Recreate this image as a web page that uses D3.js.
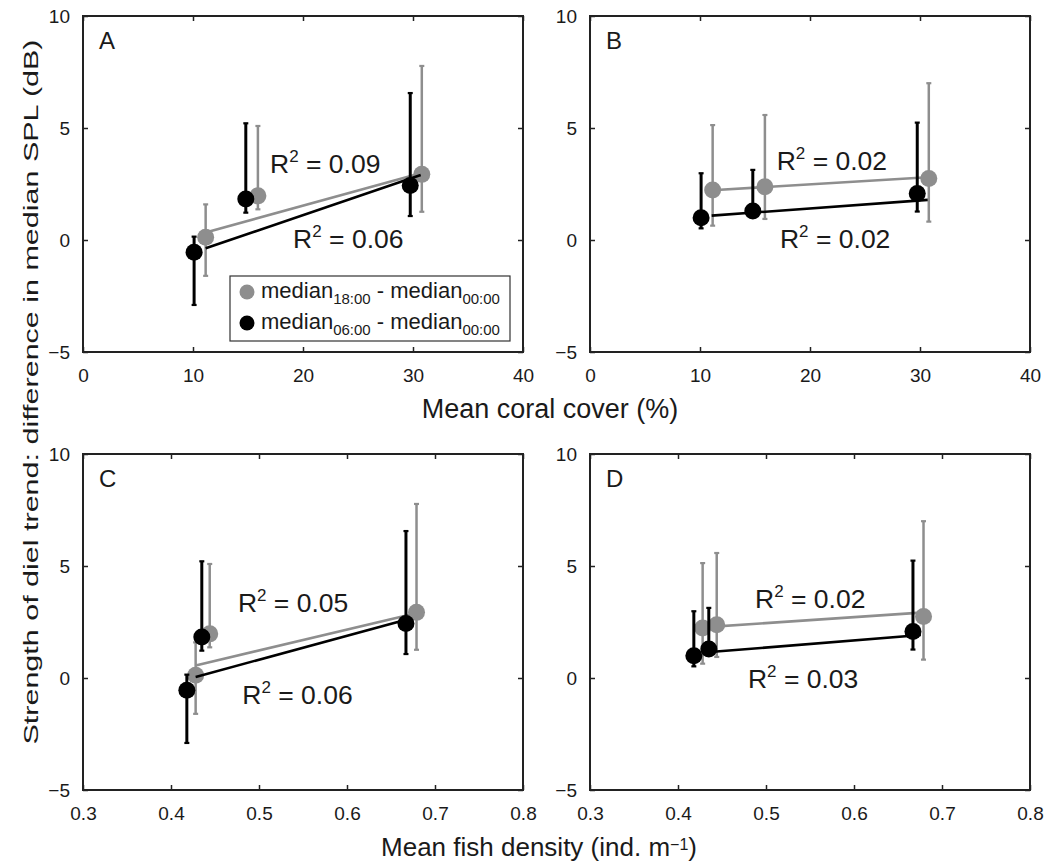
<!DOCTYPE html>
<html>
<head>
<meta charset="utf-8">
<script src="https://cdn.jsdelivr.net/npm/d3@7"></script>
<style>
  body { margin: 0; background: #fff; }
  text { font-family: 'Liberation Sans', Arial, Helvetica, sans-serif; fill: #1a1a1a; }
</style>
</head>
<body>
<div id="chart"></div>
<script>
'use strict'

////////////////////////////////////
//////////////// data //////////////
////////////////////////////////////

// x positions (slightly dodged per series)
const coralX18 = [11.15, 15.9, 30.8]
const coralX06 = [10.1, 14.8, 29.75]
const fishX18 = [0.428, 0.444, 0.679]
const fishX06 = [0.418, 0.435, 0.667]

// panel A / C : strength of diel trend (dB)
const acY18 = [0.12, 1.97, 2.93]
const acLo18 = [-1.6, 1.37, 1.26]
const acHi18 = [1.59, 5.09, 7.77]
const acY06 = [-0.55, 1.83, 2.43]
const acLo06 = [-2.9, 1.22, 1.07]
const acHi06 = [0.15, 5.21, 6.56]

// panel B / D
const bdY18 = [2.23, 2.38, 2.75]
const bdLo18 = [0.64, 0.94, 0.82]
const bdHi18 = [5.13, 5.58, 7.0]
const bdY06 = [0.99, 1.29, 2.08]
const bdLo06 = [0.52, 1.0, 1.27]
const bdHi06 = [2.98, 3.13, 5.24]

// regression lines [x0, y0, x1, y1]
const fitA18 = [11.15, 0.34, 30.7, 2.98]
const fitA06 = [11.15, -0.37, 30.7, 2.9]
const fitB18 = [11.1, 2.22, 30.7, 2.8]
const fitB06 = [11.06, 1.09, 30.7, 1.79]
const fitC18 = [0.428, 0.56, 0.676, 2.87]
const fitC06 = [0.428, 0.05, 0.667, 2.6]
const fitD18 = [0.428, 2.26, 0.676, 2.92]
const fitD06 = [0.44, 1.17, 0.676, 1.92]

const r2A = ['0.09', '0.06']
const r2B = ['0.02', '0.02']
const r2C = ['0.05', '0.06']
const r2D = ['0.02', '0.03']

const yTicks = [-5, 0, 5, 10]
const coralTicks = [0, 10, 20, 30, 40]
const fishTicks = [0.3, 0.4, 0.5, 0.6, 0.7, 0.8]

////////////////////////////////////
//////////// svg setup /////////////
////////////////////////////////////

const svgWidth = 1046, svgHeight = 863
const grey = '#8e8e8e', black = '#000'

const svg = d3.select('#chart').append('svg')
    .attr('width', svgWidth)
    .attr('height', svgHeight)
    .style('display', 'block')

svg.append('rect').attr('width', svgWidth).attr('height', svgHeight).attr('fill', '#fff')

const pw = 440, ph = 336

const panels = [
    {id: 'A', left: 83, top: 16, domain: [0, 40], ticks: coralTicks, fmt: d3.format('d'),
     x18: coralX18, x06: coralX06, y18: acY18, lo18: acLo18, hi18: acHi18, y06: acY06, lo06: acLo06, hi06: acHi06,
     fit18: fitA18, fit06: fitA06, r2: r2A, lab18: [17.0, 2.99], lab06: [19.1, -0.36], legend: true},
    {id: 'B', left: 590, top: 16, domain: [0, 40], ticks: coralTicks, fmt: d3.format('d'),
     x18: coralX18, x06: coralX06, y18: bdY18, lo18: bdLo18, hi18: bdHi18, y06: bdY06, lo06: bdLo06, hi06: bdHi06,
     fit18: fitB18, fit06: fitB06, r2: r2B, lab18: [16.97, 3.13], lab06: [17.27, -0.36]},
    {id: 'C', left: 83, top: 454, domain: [0.3, 0.8], ticks: fishTicks, fmt: d3.format('.1f'),
     x18: fishX18, x06: fishX06, y18: acY18, lo18: acLo18, hi18: acHi18, y06: acY06, lo06: acLo06, hi06: acHi06,
     fit18: fitC18, fit06: fitC06, r2: r2C, lab18: [0.476, 2.94], lab06: [0.481, -1.17]},
    {id: 'D', left: 590, top: 454, domain: [0.3, 0.8], ticks: fishTicks, fmt: d3.format('.1f'),
     x18: fishX18, x06: fishX06, y18: bdY18, lo18: bdLo18, hi18: bdHi18, y06: bdY06, lo06: bdLo06, hi06: bdHi06,
     fit18: fitD18, fit06: fitD06, r2: r2D, lab18: [0.4875, 3.12], lab06: [0.4795, -0.45]}
]

panels.forEach(p => {
    const g = svg.append('g').attr('transform', `translate(${p.left},${p.top})`)

    const x = d3.scaleLinear().domain(p.domain).range([0, pw])
    const y = d3.scaleLinear().domain([-5, 10]).range([ph, 0])

    // axes (ticks inside)
    const ax = [
        d3.axisBottom(x).tickValues(p.ticks).tickFormat(p.fmt).tickSizeInner(-5).tickSizeOuter(0).tickPadding(17),
        d3.axisTop(x).tickValues(p.ticks).tickFormat('').tickSizeInner(-5).tickSizeOuter(0),
        d3.axisLeft(y).tickValues(yTicks).tickSizeInner(-5).tickSizeOuter(0).tickPadding(13),
        d3.axisRight(y).tickValues(yTicks).tickFormat('').tickSizeInner(-5).tickSizeOuter(0)
    ]
    const pos = [`translate(0,${ph})`, 'translate(0,0)', 'translate(0,0)', `translate(${pw},0)`]
    ax.forEach((a, i) => {
        const gg = g.append('g').attr('transform', pos[i]).call(a)
        gg.select('.domain').remove()
        gg.selectAll('line').attr('stroke', '#222').attr('stroke-width', 1.5)
        gg.selectAll('text').attr('font-size', 19).attr('fill', '#1a1a1a')
            .attr('font-family', "'Liberation Sans', Arial, sans-serif")
    })

    g.append('rect').attr('width', pw).attr('height', ph)
        .attr('fill', 'none').attr('stroke', '#222').attr('stroke-width', 2)

    g.append('text').attr('x', 16).attr('y', 33).attr('font-size', 24).text(p.id)

    const series = [
        {xs: p.x18, ys: p.y18, lo: p.lo18, hi: p.hi18, fit: p.fit18, color: grey, w: 2.5},
        {xs: p.x06, ys: p.y06, lo: p.lo06, hi: p.hi06, fit: p.fit06, color: black, w: 3}
    ]

    series.forEach(s => {
        const pts = s.xs.map((v, i) => ({x: v, y: s.ys[i], lo: s.lo[i], hi: s.hi[i]}))

        // error bars
        g.selectAll(null).data(pts).join('line')
            .attr('x1', d => x(d.x)).attr('x2', d => x(d.x))
            .attr('y1', d => y(d.lo)).attr('y2', d => y(d.hi))
            .attr('stroke', s.color).attr('stroke-width', s.w)
        ;['lo', 'hi'].forEach(k => {
            g.selectAll(null).data(pts).join('line')
                .attr('x1', d => x(d.x) - 2.5).attr('x2', d => x(d.x) + 2.5)
                .attr('y1', d => y(d[k])).attr('y2', d => y(d[k]))
                .attr('stroke', s.color).attr('stroke-width', 2.2)
        })

        // regression line
        g.append('line')
            .attr('x1', x(s.fit[0])).attr('y1', y(s.fit[1]))
            .attr('x2', x(s.fit[2])).attr('y2', y(s.fit[3]))
            .attr('stroke', s.color).attr('stroke-width', 2.6)

        g.selectAll(null).data(pts).join('circle')
            .attr('cx', d => x(d.x)).attr('cy', d => y(d.y)).attr('r', 8.5)
            .attr('fill', s.color)
    })

    // R^2 labels
    ;[[p.lab18, p.r2[0]], [p.lab06, p.r2[1]]].forEach(([pos, val]) => {
        const t = g.append('text').attr('x', x(pos[0])).attr('y', y(pos[1])).attr('font-size', 26.5)
        t.append('tspan').text('R')
        t.append('tspan').attr('font-size', 17).attr('dy', -11).text('2')
        t.append('tspan').attr('dy', 11).text(' = ' + val)
    })

    if (p.legend) {
        const lg = g.append('g').attr('transform', 'translate(147,260)')
        lg.append('rect').attr('width', 280).attr('height', 65)
            .attr('fill', '#fff').attr('stroke', '#333').attr('stroke-width', 1.2)
        const items = [['18:00', grey], ['06:00', black]]
        items.forEach((it, i) => {
            const yy = 16 + i * 31
            lg.append('circle').attr('cx', 17).attr('cy', yy).attr('r', 7.5).attr('fill', it[1])
            const t = lg.append('text').attr('x', 31).attr('y', yy + 6).attr('font-size', 22)
            t.append('tspan').text('median')
            t.append('tspan').attr('font-size', 15).attr('dy', 6).text(it[0])
            t.append('tspan').attr('dy', -6).text(' - median')
            t.append('tspan').attr('font-size', 15).attr('dy', 6).text('00:00')
        })
    }
})

// axis titles
svg.append('text').attr('x', 550).attr('y', 418).attr('text-anchor', 'middle')
    .attr('font-size', 27).text('Mean coral cover (%)')

const fl = svg.append('text').attr('x', 539).attr('y', 856).attr('text-anchor', 'middle').attr('font-size', 26)
fl.append('tspan').text('Mean fish density (ind. m')
fl.append('tspan').attr('font-size', 16).attr('dy', -6).text('−1')
fl.append('tspan').attr('dy', 6).text(')')

svg.append('text')
    .attr('transform', 'translate(38,392) rotate(-90)')
    .attr('text-anchor', 'middle').attr('font-size', 21)
    .attr('textLength', 705).attr('lengthAdjust', 'spacingAndGlyphs')
    .text('Strength of diel trend: difference in median SPL (dB)')
</script>
</body>
</html>
